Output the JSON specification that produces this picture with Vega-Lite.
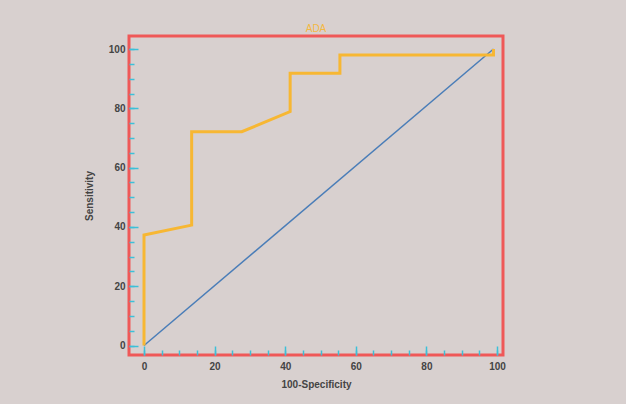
{
  "$schema": "https://vega.github.io/schema/vega-lite/v6.json",
  "width": 374,
  "height": 319,
  "autosize": {"type": "none"},
  "padding": {"left": 129, "top": 36, "right": 123, "bottom": 49},
  "background": "#d8d0cf",
  "title": {"text": "ADA", "color": "#f4b844", "fontSize": 10, "font": "Liberation Sans", "fontWeight": "normal", "offset": 2},
  "config": {
    "view": {"stroke": "#ef5858", "strokeWidth": 3},
    "axis": {
      "domain": false,
      "grid": false,
      "labelFont": "Liberation Sans",
      "labelFontWeight": "bold",
      "labelFontSize": 10,
      "labelColor": "#444444",
      "titleFont": "Liberation Sans",
      "titleFontWeight": "bold",
      "titleFontSize": 10,
      "titleColor": "#444444",
      "tickColor": "#3cc0d8",
      "tickWidth": 1.5
    }
  },
  "datasets": {
    "roc": [
      {"fpr": 0, "tpr": 0},
      {"fpr": 0, "tpr": 37.3},
      {"fpr": 13.5, "tpr": 40.6},
      {"fpr": 13.5, "tpr": 72.1},
      {"fpr": 27.7, "tpr": 72.1},
      {"fpr": 41.4, "tpr": 78.9},
      {"fpr": 41.4, "tpr": 91.8},
      {"fpr": 55.5, "tpr": 91.8},
      {"fpr": 55.5, "tpr": 98},
      {"fpr": 99, "tpr": 98},
      {"fpr": 99, "tpr": 100}
    ],
    "ref": [
      {"fpr": 0, "tpr": 0},
      {"fpr": 99, "tpr": 100}
    ]
  },
  "resolve": {"axis": {"x": "independent", "y": "independent"}},
  "layer": [
    {
      "data": {"name": "ref"},
      "mark": {"type": "line", "color": "#4a7db8", "strokeWidth": 1.5},
      "encoding": {
        "x": {
          "field": "fpr", "type": "quantitative",
          "scale": {"domain": [-4.25, 101.7], "nice": false, "zero": false},
          "axis": {
            "orient": "bottom", "title": null, "labels": false,
            "values": [0,5,10,15,20,25,30,35,40,45,50,55,60,65,70,75,80,85,90,95,100],
            "tickSize": -5
          }
        },
        "y": {
          "field": "tpr", "type": "quantitative",
          "scale": {"domain": [-3.2, 104.4], "nice": false, "zero": false},
          "axis": {
            "orient": "left", "title": null, "labels": false,
            "values": [0,5,10,15,20,25,30,35,40,45,50,55,60,65,70,75,80,85,90,95,100],
            "tickSize": -5
          }
        }
      }
    },
    {
      "data": {"name": "roc"},
      "mark": {"type": "line", "color": "#f7b733", "strokeWidth": 3, "strokeJoin": "miter"},
      "encoding": {
        "x": {
          "field": "fpr", "type": "quantitative", "title": "100-Specificity",
          "scale": {"domain": [-4.25, 101.7], "nice": false, "zero": false},
          "axis": {
            "orient": "bottom",
            "values": [0, 20, 40, 60, 80, 100],
            "tickSize": -9,
            "labelPadding": 15,
            "titlePadding": 8
          }
        },
        "y": {
          "field": "tpr", "type": "quantitative", "title": "Sensitivity",
          "scale": {"domain": [-3.2, 104.4], "nice": false, "zero": false},
          "axis": {
            "orient": "left",
            "values": [0, 20, 40, 60, 80, 100],
            "tickSize": -9,
            "labelPadding": 13,
            "titlePadding": 14
          }
        },
        "order": {"field": "fpr", "type": "quantitative"}
      }
    }
  ]
}
